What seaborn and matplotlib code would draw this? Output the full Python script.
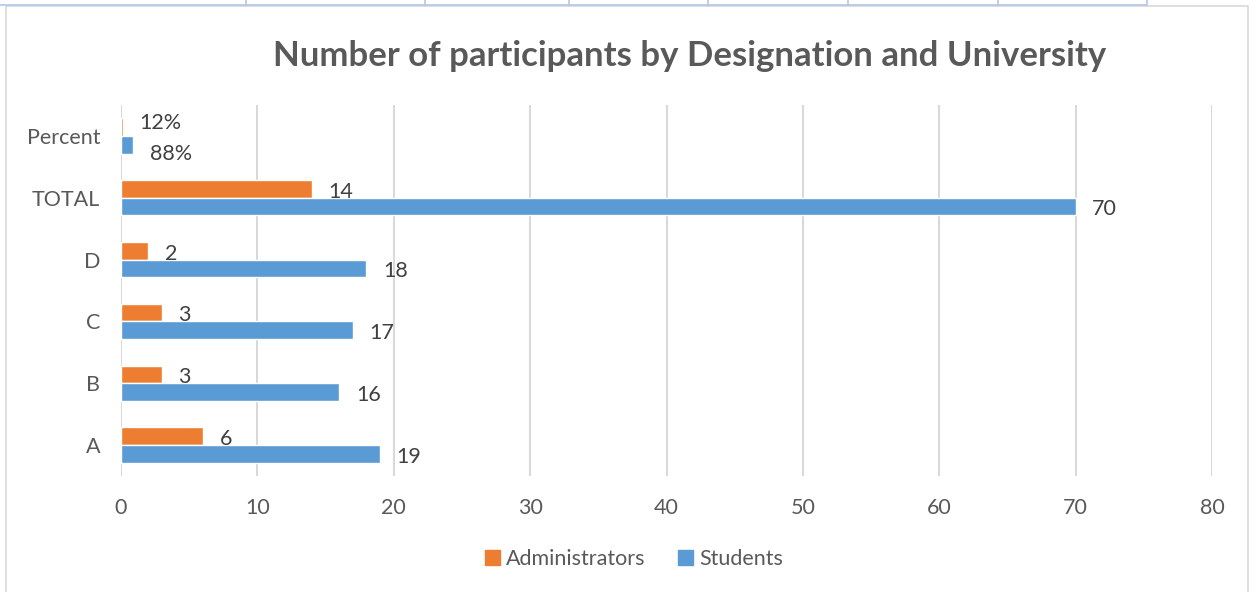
import pandas as pd
import matplotlib.pyplot as plt
import seaborn as sns
from matplotlib.lines import Line2D
from matplotlib.patches import Rectangle

# data
categories = ['Percent', 'TOTAL', 'D', 'C', 'B', 'A']
administrators = [0.12, 14, 2, 3, 3, 6]
students = [0.88, 70, 18, 17, 16, 19]
admin_labels = ['12%', '14', '2', '3', '3', '6']
student_labels = ['88%', '70', '18', '17', '16', '19']
series = ['Administrators', 'Students']
x_ticks = [0, 10, 20, 30, 40, 50, 60, 70, 80]

df = pd.DataFrame({
    'University': categories * 2,
    'Designation': ['Administrators'] * len(categories) + ['Students'] * len(categories),
    'Count': administrators + students,
    'Label': admin_labels + student_labels,
})

sns.set_style('white')
plt.rcParams['font.family'] = ['Lato', 'DejaVu Sans']
grey = '#595959'
orange = '#ED7D31'
blue = '#5B9BD5'

fig = plt.figure(figsize=(12.58, 5.92), dpi=100)
ax = fig.add_axes([121 / 1258, 1 - 476 / 592, (1212 - 121) / 1258, (476 - 105) / 592])

sns.barplot(data=df, x='Count', y='University', hue='Designation',
            order=categories, hue_order=series,
            palette={'Administrators': orange, 'Students': blue}, saturation=1,
            width=0.57, orient='h', ax=ax, legend=False, errorbar=None)

# value labels (the tiny Percent bars get their labels pushed apart like Excel does)
nudge = {('Administrators', 'Percent'): 5, ('Students', 'Percent'): -5}
for container, name in zip(ax.containers, series):
    labels = df[df['Designation'] == name].set_index('University').loc[categories, 'Label']
    for bar, cat, lab in zip(container, categories, labels):
        dy = -2 + nudge.get((name, cat), 0)
        ax.annotate(lab, (bar.get_width(), bar.get_y() + bar.get_height() / 2),
                    xytext=(12, dy), textcoords='offset points',
                    ha='left', va='center', fontsize=15.5, color='#404040')

ax.set_xlim(0, 80)
ax.set_xticks(x_ticks)
ax.xaxis.grid(True, color='#d9d9d9', linewidth=1.5)
ax.set_axisbelow(True)
for s in ax.spines.values():
    s.set_visible(False)
ax.tick_params(axis='x', length=0, pad=16, labelsize=15.5, labelcolor=grey)
ax.tick_params(axis='y', length=0, pad=15, labelsize=15.5, labelcolor=grey)
ax.set_xlabel('')
ax.set_ylabel('')

fig.text(690 / 1258, 1 - 56 / 592, 'Number of participants by Designation and University',
         ha='center', va='center', fontsize=25, fontweight='bold', color=grey)

handles = [Rectangle((0, 0), 1, 1, color=orange), Rectangle((0, 0), 1, 1, color=blue)]
fig.legend(handles, series, loc='center', bbox_to_anchor=(634 / 1258, 1 - 559 / 592),
           ncol=2, frameon=False, fontsize=15.5, labelcolor=grey,
           handlelength=0.7, handleheight=0.7, handletextpad=0.3, columnspacing=1.5)

# chart border and the bit of spreadsheet grid above it
fig.add_artist(Rectangle((6 / 1258, -0.01), (1248 - 6) / 1258, 1 - 6 / 592 + 0.01,
                         transform=fig.transFigure, fill=False, edgecolor='#d9d9d9', linewidth=1.2))
fig.add_artist(Line2D([0, 1147 / 1258], [1 - 5 / 592] * 2, transform=fig.transFigure,
                      color='#b4c6e7', linewidth=1.2))
for xp in [246, 425, 569, 708, 848, 998, 1147]:
    fig.add_artist(Line2D([xp / 1258] * 2, [1 - 5 / 592, 1], transform=fig.transFigure,
                          color='#b4c6e7', linewidth=1.2))

fig.savefig('out.png', dpi=100)
plt.close(fig)
